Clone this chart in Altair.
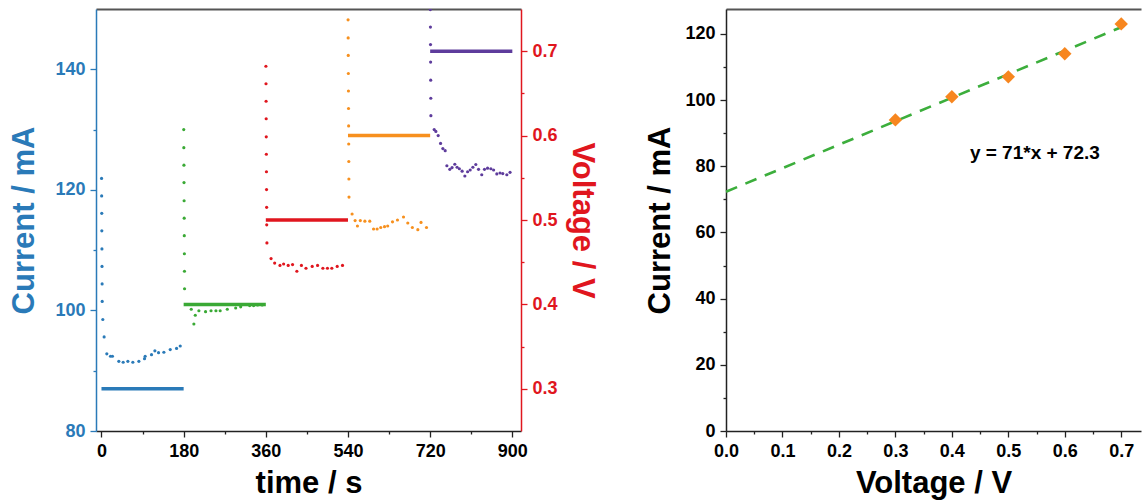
import altair as alt
import pandas as pd

# ---------------- data: left panel (chronoamperometry) ----------------
seg_names = ["0.3 V", "0.4 V", "0.5 V", "0.6 V", "0.7 V"]
seg_colors = ["#2a7ab8", "#3aa935", "#e0161e", "#f7901e", "#5e3c9c"]

t_03 = [0.2, 0.4, 0.6, 0.8, 1.0, 1.2, 1.4, 1.6, 2.9, 5.8, 11.7, 19.7, 24, 38, 47.5,
        57.8, 68.7, 81.9, 94.3, 95.7, 109.6, 117, 125, 136.7, 150.6, 164.5, 172.5]
i_03 = [121.9, 119.0, 116.1, 113.2, 110.2, 107.3, 104.4, 101.5, 98.5, 95.6, 92.8, 92.4,
        92.4, 91.55, 91.4, 91.55, 91.4, 91.55, 92.0, 92.4, 92.66, 93.3, 93.0, 93.07,
        93.5, 93.7, 94.1]

t_04 = [180.2, 180.4, 180.6, 180.8, 181.0, 181.2, 181.4, 181.6, 181.8, 182.0,
        196.7, 202.4, 205.5, 213.4, 228, 240, 250.7, 260, 275.6, 294, 305, 324.6,
        333.3, 342, 352]
i_04 = [130.0, 127.0, 124.1, 121.2, 118.2, 115.3, 112.4, 109.4, 106.5, 103.6,
        100.2, 97.75, 99.2, 99.95, 99.8, 99.95, 99.95, 99.95, 100.2, 100.4, 100.6,
        100.8, 100.8, 100.9, 100.9]

t_05 = [360.2, 360.4, 360.6, 360.8, 361.0, 361.2, 361.4, 361.6, 361.8, 362.0, 362.4,
        371.5, 379.4, 391, 399, 409, 418.6, 428, 438, 448, 461.6, 473.4, 485, 495,
        504.6, 516.4, 528]
i_05 = [140.5, 137.6, 134.7, 131.8, 128.8, 125.9, 123.0, 120.05, 117.1, 114.2, 111.2,
        108.6, 107.85, 107.46, 107.7, 107.46, 107.6, 106.5, 107.46, 107.0, 107.3,
        107.46, 107.0, 107.0, 107.0, 107.3, 107.46]

t_06 = [540.2, 540.4, 540.6, 540.8, 541.0, 541.2, 541.4, 541.6, 541.8, 542.0, 542.2,
        549, 555.6, 560.7, 567, 577, 587.7, 596, 603.8, 611.8, 620, 627, 637.5, 648.4,
        661.6, 671, 681, 693, 700, 712]
i_06 = [148.2, 145.2, 142.3, 139.3, 136.4, 133.5, 130.6, 127.6, 124.7, 121.8, 118.8,
        116.0, 114.9, 114.0, 114.9, 114.8, 114.8, 113.5, 113.5, 113.75, 113.9, 114.0,
        114.7, 115.0, 115.5, 114.5, 113.75, 113.4, 114.6, 113.75]

t_07 = [720.4, 720.6, 720.8, 721.0, 721.2, 721.4, 721.6, 728.8, 732.5, 737.6, 742.8,
        747.8, 752.9, 756.6, 763, 768, 774, 779, 784, 790, 796, 802, 807.7, 813.6,
        820, 826, 833, 839, 845.8, 853, 859, 866, 873, 879, 888, 895]
i_07 = [149.9, 147.0, 144.1, 141.2, 138.2, 135.2, 132.3, 130.0, 129.7, 129.0, 127.7,
        126.85, 126.5, 124.0, 123.4, 123.7, 124.25, 123.75, 123.5, 123.1, 122.3, 123.0,
        123.3, 123.75, 124.2, 123.4, 122.5, 123.4, 123.6, 123.5, 123.3, 122.65, 122.8,
        122.7, 122.5, 122.9]

step_start = [0, 180, 360, 540, 720]
step_end = [180, 360, 540, 720, 900]
step_volt = [0.3, 0.4, 0.5, 0.6, 0.7]

time_ticks = [0, 90, 180, 270, 360, 450, 540, 630, 720, 810, 900]
current_ticks = [80, 90, 100, 110, 120, 130, 140]
volt_ticks = [0.3, 0.35, 0.4, 0.45, 0.5, 0.55, 0.6, 0.65, 0.7]

# ---------------- data: right panel (I–V) ----------------
iv_volt = [0.3, 0.4, 0.5, 0.6, 0.7]
iv_curr = [94, 101, 107, 114, 123]
fit_slope = 71
fit_intercept = 72.3
fit_x = [0.0, 0.7]
eq_x = [0.547]
eq_y = [84]
eq_label = ["y = 71*x + 72.3"]
iv_x_ticks = [0.0, 0.05, 0.1, 0.15, 0.2, 0.25, 0.3, 0.35, 0.4, 0.45, 0.5, 0.55, 0.6, 0.65, 0.7]
iv_y_ticks = [0, 10, 20, 30, 40, 50, 60, 70, 80, 90, 100, 110, 120]

# ---------------- tables ----------------
rows = []
for name, ts, cs in zip(seg_names, [t_03, t_04, t_05, t_06, t_07], [i_03, i_04, i_05, i_06, i_07]):
    for t, c in zip(ts, cs):
        rows.append({"t": t, "I": c, "seg": name})
dots_df = pd.DataFrame(rows)
steps_df = pd.DataFrame({"start": step_start, "end": step_end, "V": step_volt, "seg": seg_names})
iv_df = pd.DataFrame({"V": iv_volt, "I": iv_curr})
fit_df = pd.DataFrame({"V": fit_x, "I": [fit_intercept + fit_slope * x for x in fit_x]})
eq_df = pd.DataFrame({"V": eq_x, "I": eq_y, "label": eq_label})

FONT = "Liberation Sans"
LBL = 18
TTL = 31
BLUE = "#2a7ab8"
RED = "#e0161e"

color_enc = alt.Color("seg:N", scale=alt.Scale(domain=seg_names, range=seg_colors), legend=None)

def minor(test):
    return {"condition": {"test": test, "value": 3}, "value": 6}

common = dict(labelFont=FONT, labelFontSize=LBL, labelFontWeight="bold", titleFont=FONT,
              titleFontSize=TTL, titleFontWeight="bold", labelOverlap=False, labelFlush=False,
              domainWidth=1.5, tickWidth=1.3, labelPadding=5)

x_scale = alt.Scale(domain=[-12, 919], nice=False, zero=False)

bottom_axis = alt.Axis(orient="bottom", values=time_ticks, title="time / s",
                       labelExpr="datum.value % 180 == 0 ? datum.label : ''",
                       tickSize=minor("datum.value % 180 != 0"),
                       domainColor="#222", tickColor="#222", labelColor="black",
                       titleColor="black", titlePadding=8, **common)
left_axis = alt.Axis(orient="left", values=current_ticks, title="Current / mA",
                     labelExpr="datum.value % 20 == 0 ? datum.label : ''",
                     tickSize=minor("datum.value % 20 != 0"),
                     domainColor=BLUE, tickColor=BLUE, labelColor=BLUE, titleColor=BLUE,
                     titlePadding=14, **common)
right_axis = alt.Axis(orient="right", values=volt_ticks, title="Voltage / V", format=".1f",
                      labelExpr="abs(datum.value*10 - round(datum.value*10)) < 0.01 ? datum.label : ''",
                      tickSize=minor("abs(datum.value*10 - round(datum.value*10)) > 0.01"),
                      domainColor=RED, tickColor=RED, labelColor=RED, titleColor=RED,
                      titlePadding=8, **common)
top_axis = alt.Axis(orient="top", labels=False, ticks=False, title=None, domain=True,
                    domainColor="#555", domainWidth=2, grid=False)

dots = alt.Chart(dots_df).mark_circle(size=10, opacity=1, clip=True).encode(
    x=alt.X("t:Q", scale=x_scale, axis=bottom_axis),
    y=alt.Y("I:Q", scale=alt.Scale(domain=[80, 150], nice=False, zero=False), axis=left_axis),
    color=color_enc,
)
steps = alt.Chart(steps_df).mark_rule(strokeWidth=3.5).encode(
    x=alt.X("start:Q", scale=x_scale, axis=top_axis),
    x2="end:Q",
    y=alt.Y("V:Q", scale=alt.Scale(domain=[0.25, 0.75], nice=False, zero=False), axis=right_axis),
    color=color_enc,
)
left = alt.layer(dots, steps).resolve_scale(y="independent").properties(width=425, height=422)

# ---------------- right panel ----------------
iv_xs = alt.Scale(domain=[0, 0.735], nice=False, zero=False)
iv_ys = alt.Scale(domain=[0, 127.5], nice=False, zero=False)

iv_bottom = alt.Axis(orient="bottom", values=iv_x_ticks, title="Voltage / V", format=".1f",
                     labelExpr="abs(datum.value*10 - round(datum.value*10)) < 0.01 ? datum.label : ''",
                     tickSize=minor("abs(datum.value*10 - round(datum.value*10)) > 0.01"),
                     domainColor="#222", tickColor="#222", labelColor="black", titleColor="black",
                     titlePadding=8, **common)
iv_left = alt.Axis(orient="left", values=iv_y_ticks, title="Current / mA",
                   labelExpr="datum.value % 20 == 0 ? datum.label : ''",
                   tickSize=minor("datum.value % 20 != 0"),
                   domainColor="#222", tickColor="#222", labelColor="black", titleColor="black",
                   titlePadding=8, **common)
iv_top = alt.Axis(orient="top", labels=False, ticks=False, title=None, domain=True,
                  domainColor="#555", domainWidth=2, grid=False)

fit_line = alt.Chart(fit_df).mark_line(color="#3cae3c", strokeWidth=2.6, strokeDash=[12, 9]).encode(
    x=alt.X("V:Q", scale=iv_xs, axis=iv_bottom),
    y=alt.Y("I:Q", scale=iv_ys, axis=iv_left),
)
diamonds = alt.Chart(iv_df).mark_point(shape="diamond", filled=True, size=180, opacity=1,
                                       color="#f7861f").encode(
    x=alt.X("V:Q", scale=iv_xs, axis=None),
    y=alt.Y("I:Q", scale=iv_ys, axis=None),
)
eq_text = alt.Chart(eq_df).mark_text(font=FONT, fontSize=19, fontWeight="bold", color="black").encode(
    x=alt.X("V:Q", scale=iv_xs, axis=iv_top),
    y=alt.Y("I:Q", scale=iv_ys, axis=None),
    text="label:N",
)
right = alt.layer(fit_line, diamonds, eq_text).resolve_axis(
    x="independent", y="independent").properties(width=415, height=422)

chart = alt.hconcat(left, right, spacing=46).properties(
    padding={"left": 8, "top": 9, "right": 1, "bottom": 2}
).configure_view(stroke=None).configure_axis(grid=False)

chart.save("out.html", embed_options={"renderer": "svg", "actions": False})
